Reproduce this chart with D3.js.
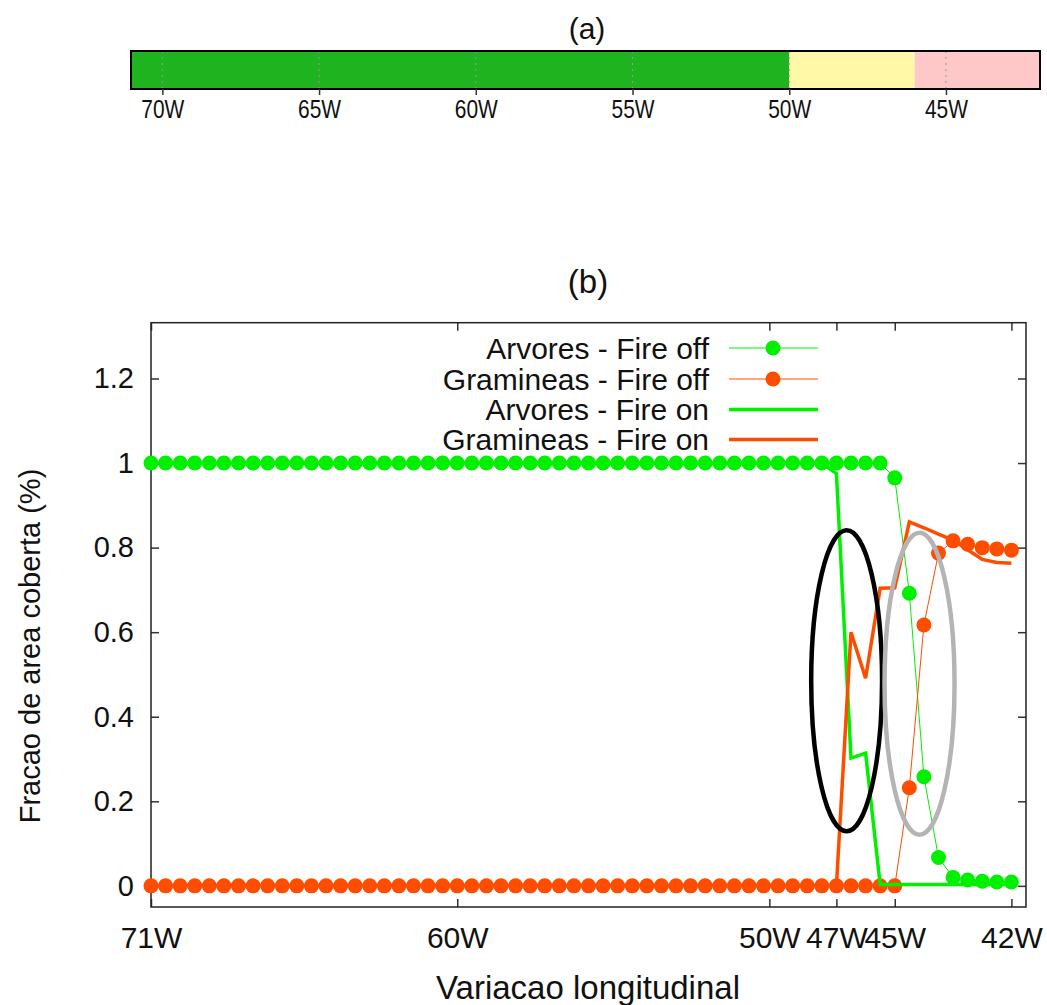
<!DOCTYPE html>
<html><head><meta charset="utf-8">
<script src="https://cdn.jsdelivr.net/npm/d3@7"></script>
<style>body{margin:0;background:#fff} svg{display:block}</style>
</head><body>
<svg id="c" width="1047" height="1005"></svg>
<script>
// ---------- Panel (a) data ----------
const zoneEdges = [-71, -50, -46, -42];          // longitude edges of zones
const zoneColors = ["#1fb41f", "#fff8a6", "#ffc8c8"];
const aTicks = [-70, -65, -60, -55, -50, -45];

// ---------- Panel (b) data ----------
const xTickPos = [0, 21, 42.4, 47, 51, 59];
const xTickLabels = ["71W", "60W", "50W", "47W", "45W", "42W"];
const yTicks = [0, 0.2, 0.4, 0.6, 0.8, 1, 1.2];

const arvoresOff = [1,1,1,1,1,1,1,1,1,1, 1,1,1,1,1,1,1,1,1,1, 1,1,1,1,1,1,1,1,1,1,
  1,1,1,1,1,1,1,1,1,1, 1,1,1,1,1,1,1,1,1,1, 1,0.965,0.692,0.258,0.067,0.02,0.014,0.011,0.009,0.009];
const gramineasOff = [0,0,0,0,0,0,0,0,0,0, 0,0,0,0,0,0,0,0,0,0, 0,0,0,0,0,0,0,0,0,0,
  0,0,0,0,0,0,0,0,0,0, 0,0,0,0,0,0,0,0,0,0, 0,0,0.232,0.617,0.787,0.816,0.808,0.80,0.797,0.794];
const arvoresOn = [1,1,1,1,1,1,1,1,1,1, 1,1,1,1,1,1,1,1,1,1, 1,1,1,1,1,1,1,1,1,1,
  1,1,1,1,1,1,1,1,1,1, 1,1,1,1,1,1,1,0.975,0.302,0.314, 0.003,0.003,0.003,0.003,0.003,0.003,0.003,0.003,0.003,0.003];
const gramineasOn = [0,0,0,0,0,0,0,0,0,0, 0,0,0,0,0,0,0,0,0,0, 0,0,0,0,0,0,0,0,0,0,
  0,0,0,0,0,0,0,0,0,0, 0,0,0,0,0,0,0,0,0.60,0.491, 0.704,0.705,0.861,0.847,0.832,0.818,0.795,0.772,0.765,0.763];

const seriesNames = ["Arvores - Fire off", "Gramineas - Fire off", "Arvores - Fire on", "Gramineas - Fire on"];
const GREEN = "#00f000", ORANGE = "#ff4d00";

// annotation ellipses (data units: index, value, radii)
const ellipses = [
  {cx: 47.7, cy: 0.485, rx: 2.43, ry: 0.356, color: "#000000"},
  {cx: 52.7, cy: 0.478, rx: 2.40, ry: 0.357, color: "#b4b4b4"}
];

const svg = d3.select("#c");
const FONT = "'Liberation Sans', Arial, sans-serif";

// ================= Panel (a) =================
const xa = d3.scaleLinear().domain([-71, -42]).range([131, 1040]);
const aTop = 51, aBot = 89;
const ga = svg.append("g");
ga.append("text").attr("x", 587).attr("y", 28).attr("text-anchor", "middle")
  .attr("dominant-baseline", "central")
  .style("font-family", FONT).style("font-weight", "300")
  .style("font-size", "30px").attr("fill", "#111").text("(a)");
ga.selectAll("rect.zone").data(zoneColors).join("rect").attr("class", "zone")
  .attr("x", (d, i) => xa(zoneEdges[i])).attr("y", aTop)
  .attr("width", (d, i) => xa(zoneEdges[i + 1]) - xa(zoneEdges[i]))
  .attr("height", aBot - aTop).attr("fill", d => d);
ga.selectAll("line.grid").data(aTicks).join("line").attr("class", "grid")
  .attr("x1", d => xa(d)).attr("x2", d => xa(d)).attr("y1", aTop).attr("y2", aBot)
  .attr("stroke", "#999").attr("stroke-width", 1).attr("stroke-dasharray", "2,4");
ga.append("rect").attr("x", xa(-71)).attr("y", aTop).attr("width", xa(-42) - xa(-71))
  .attr("height", aBot - aTop).attr("fill", "none").attr("stroke", "#000").attr("stroke-width", 2);
const axA = ga.append("g").attr("transform", `translate(0,${aBot})`)
  .call(d3.axisBottom(xa).tickValues(aTicks).tickSize(6).tickPadding(5)
    .tickFormat(d => Math.abs(d) + "W"));
axA.select(".domain").remove();
axA.selectAll("line").attr("stroke", "#333").attr("stroke-width", 1.5);
axA.selectAll("text").style("font-family", FONT)
  .style("font-size", "25px").attr("fill", "#111")
  .attr("textLength", 43).attr("lengthAdjust", "spacingAndGlyphs");

// ================= Panel (b) =================
const L = 151, R = 1026, T = 322.7, B = 907;
const x = d3.scaleLinear().domain([0, 60]).range([L, R]);
const y = d3.scaleLinear().domain([-0.05, 1.332]).range([B, T]);
const gb = svg.append("g");

gb.append("text").attr("x", 588).attr("y", 281).attr("text-anchor", "middle")
  .attr("dominant-baseline", "central").style("font-family", FONT).style("font-size", "33px")
  .attr("fill", "#111").text("(b)");

// axes (ticks inward, mirrored)
const fmtY = d3.format("~g");
const axB = gb.append("g").attr("transform", `translate(0,${B})`)
  .call(d3.axisBottom(x).tickValues(xTickPos).tickSize(-8).tickPadding(20)
    .tickFormat((d, i) => xTickLabels[i]));
const axT = gb.append("g").attr("transform", `translate(0,${T})`)
  .call(d3.axisTop(x).tickValues(xTickPos).tickSize(-8).tickFormat(""));
const axL = gb.append("g").attr("transform", `translate(${L},0)`)
  .call(d3.axisLeft(y).tickValues(yTicks).tickSize(-8).tickPadding(17).tickFormat(fmtY));
const axR = gb.append("g").attr("transform", `translate(${R},0)`)
  .call(d3.axisRight(y).tickValues(yTicks).tickSize(-8).tickFormat(""));
[axB, axT, axL, axR].forEach(a => {
  a.select(".domain").remove();
  a.selectAll("line").attr("stroke", "#333").attr("stroke-width", 1.5);
  a.selectAll("text").style("font-family", FONT).style("font-size", "29px").attr("fill", "#111");
});
axB.selectAll("text").style("font-size", "30px");

gb.append("rect").attr("x", L).attr("y", T).attr("width", R - L).attr("height", B - T)
  .attr("fill", "none").attr("stroke", "#222").attr("stroke-width", 1.5);

// axis titles
gb.append("text").attr("x", 588).attr("y", 987).attr("text-anchor", "middle")
  .attr("dominant-baseline", "central").style("font-family", FONT).style("font-size", "33px")
  .attr("fill", "#111").text("Variacao longitudinal");
gb.append("text").attr("transform", "translate(30,646) rotate(-90)").attr("text-anchor", "middle")
  .attr("dominant-baseline", "central").style("font-family", FONT).style("font-size", "29px")
  .attr("fill", "#111").text("Fracao de area coberta (%)");

const line = d3.line().x((d, i) => x(i)).y(d => y(d));
const plot = gb.append("g");

// Fire off: thin line + points
[[arvoresOff, GREEN], [gramineasOff, ORANGE]].forEach(([data, col]) => {
  plot.append("path").datum(data).attr("d", line).attr("fill", "none")
    .attr("stroke", col).attr("stroke-width", 1);
  plot.append("g").selectAll("circle").data(data).join("circle")
    .attr("cx", (d, i) => x(i)).attr("cy", d => y(d)).attr("r", 7.5).attr("fill", col);
});
// Fire on: thick lines
[[arvoresOn, GREEN], [gramineasOn, ORANGE]].forEach(([data, col]) => {
  plot.append("path").datum(data).attr("d", line).attr("fill", "none")
    .attr("stroke", col).attr("stroke-width", 3.5).attr("stroke-linejoin", "miter");
});

// annotation ellipses
gb.selectAll("ellipse.ann").data(ellipses).join("ellipse").attr("class", "ann")
  .attr("cx", d => x(d.cx)).attr("cy", d => y(d.cy))
  .attr("rx", d => x(d.cx + d.rx) - x(d.cx)).attr("ry", d => y(0) - y(d.ry))
  .attr("fill", "none").attr("stroke", d => d.color).attr("stroke-width", 4.5);

// legend
const legY = [348, 379, 409.5, 439.5];
const leg = gb.append("g");
const legStyles = [
  {col: GREEN, w: 1, dot: true}, {col: ORANGE, w: 1, dot: true},
  {col: GREEN, w: 3.5, dot: false}, {col: ORANGE, w: 3.5, dot: false}
];
seriesNames.forEach((name, i) => {
  const s = legStyles[i];
  leg.append("text").attr("x", 709).attr("y", legY[i]).attr("text-anchor", "end")
    .attr("dominant-baseline", "central").style("font-family", FONT).style("font-size", "30px")
    .attr("fill", "#111").text(name);
  leg.append("line").attr("x1", 729).attr("x2", 818).attr("y1", legY[i]).attr("y2", legY[i])
    .attr("stroke", s.col).attr("stroke-width", s.w);
  if (s.dot) leg.append("circle").attr("cx", 773).attr("cy", legY[i]).attr("r", 7.5).attr("fill", s.col);
});
</script>
</body></html>
